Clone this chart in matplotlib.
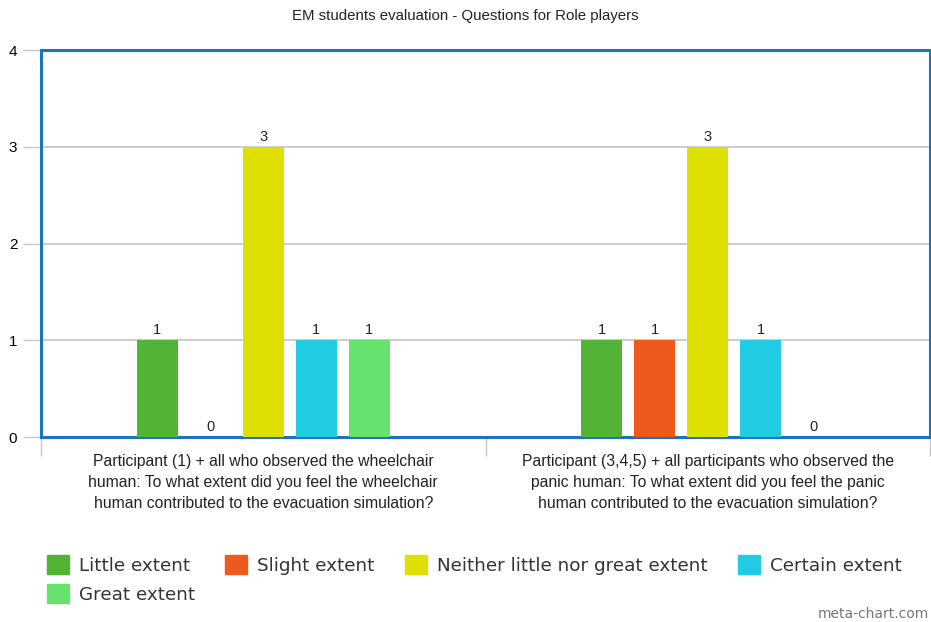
import numpy as np
import matplotlib.pyplot as plt
from matplotlib.patches import Patch

# Survey answers, one list per answer option (two questions each)
questions = [
    "Participant (1) + all who observed the wheelchair\nhuman: To what extent did you feel the wheelchair\nhuman contributed to the evacuation simulation?",
    "Participant (3,4,5) + all participants who observed the\npanic human: To what extent did you feel the panic\nhuman contributed to the evacuation simulation?",
]
options = ["Little extent", "Slight extent", "Neither little nor great extent",
           "Certain extent", "Great extent"]
little = [1, 1]
slight = [0, 1]
neither = [3, 3]
certain = [1, 1]
great = [1, 0]
colors = ["#52b435", "#ee5a1c", "#dde000", "#22cbe4", "#66e36f"]

series = [little, slight, neither, certain, great]

fig = plt.figure(figsize=(9.31, 6.22), dpi=100)
ax = fig.add_axes([0.044, 0.2974, 0.955, 0.6222])

x = np.arange(len(questions))
step = 0.1192
width = 0.092
for i, (vals, col) in enumerate(zip(series, colors)):
    bars = ax.bar(x + (i - 2) * step, vals, width, color=col, zorder=3)
    ax.bar_label(bars, labels=[str(v) for v in vals], padding=2,
                 fontsize=10.5, family="Liberation Sans", color="#222222")

ax.set_xlim(-0.5, 1.5)
ax.set_ylim(0, 4)
ax.set_yticks([0, 1, 2, 3, 4])
ax.grid(axis="y", color="#c8c8c8", linewidth=1.3, zorder=0)
ax.set_axisbelow(True)

for s in ax.spines.values():
    s.set_color("#1a75bc")
    s.set_linewidth(2.2)

ax.tick_params(axis="y", length=13, width=1, color="#c8c8c8", pad=4,
               labelsize=11)
for t in ax.get_yticklabels():
    t.set_family("Liberation Sans")

# category labels centered, tick marks only on group boundaries
ax.set_xticks(x)
ax.set_xticklabels(questions, fontsize=11.3, family="Liberation Sans",
                   linespacing=1.5, color="#222222")
ax.tick_params(axis="x", length=0, pad=12)
ax.set_xticks([-0.5, 0.5, 1.5], minor=True)
ax.tick_params(axis="x", which="minor", length=14, width=1, color="#c8c8c8")

fig.text(0.5, 0.974, "EM students evaluation - Questions for Role players",
         ha="center", va="center", fontsize=10.8, family="Liberation Sans",
         color="#222222")

# legend fills columns first, so reorder to read row by row
order = [0, 4, 1, 2, 3]
handles = [Patch(color=colors[k], label=options[k]) for k in order]
fig.legend(handles=handles, loc="upper left", bbox_to_anchor=(0.05, 0.107),
           ncol=4, frameon=False, fontsize=13.2, handlelength=1.2,
           handleheight=1.2, handletextpad=0.55, columnspacing=1.65,
           labelspacing=0.5, borderpad=0, borderaxespad=0,
           labelcolor="#333333")

fig.text(0.998, 0.002, "meta-chart.com", ha="right", va="bottom",
         fontsize=10, color="#777777", family="DejaVu Sans")

fig.savefig("out.png", dpi=100)
